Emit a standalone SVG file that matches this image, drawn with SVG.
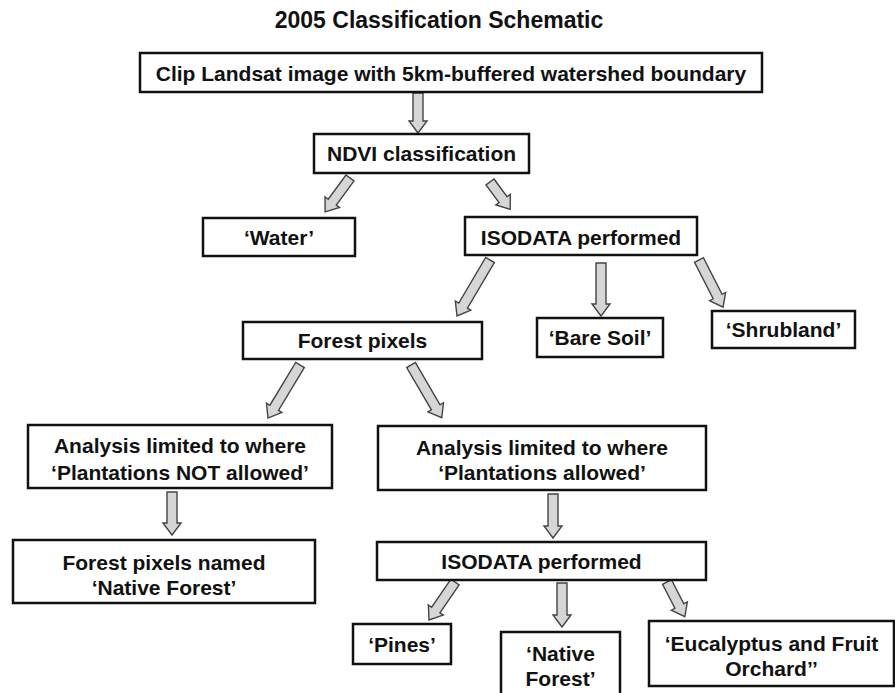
<svg xmlns="http://www.w3.org/2000/svg" width="895" height="693" viewBox="0 0 895 693">
<style>
text{font-family:"Liberation Sans",Arial,sans-serif;font-weight:bold;font-size:21px;fill:#111;text-anchor:middle}
.title{font-size:23px}
.box{fill:#fff;stroke:#111;stroke-width:2.5}
.arr{fill:#d6d6d6;stroke:#444;stroke-width:1.4;stroke-linejoin:miter}
</style>
<rect width="895" height="693" fill="#fff"/>
<text class="title" x="439" y="28">2005 Classification Schematic</text>
<g id="connectors">
<polygon class="arr" transform="translate(418,93) rotate(90)" points="0,-5 28,-5 28,-9 40,0 28,9 28,5 0,5"/>
<polygon class="arr" transform="translate(350,178) rotate(126.3)" points="0,-5 30,-5 30,-9 42,0 30,9 30,5 0,5"/>
<polygon class="arr" transform="translate(490,182) rotate(53.5)" points="0,-5 22,-5 22,-9 34,0 22,9 22,5 0,5"/>
<polygon class="arr" transform="translate(490,260) rotate(120.5)" points="0,-5 53,-5 53,-9 65,0 53,9 53,5 0,5"/>
<polygon class="arr" transform="translate(601,263) rotate(90)" points="0,-5 41,-5 41,-9 53,0 41,9 41,5 0,5"/>
<polygon class="arr" transform="translate(699,260) rotate(63)" points="0,-5 41,-5 41,-9 53,0 41,9 41,5 0,5"/>
<polygon class="arr" transform="translate(300,365) rotate(121.1)" points="0,-5 50,-5 50,-9 62,0 50,9 50,5 0,5"/>
<polygon class="arr" transform="translate(411,365) rotate(59.7)" points="0,-5 49,-5 49,-9 61,0 49,9 49,5 0,5"/>
<polygon class="arr" transform="translate(172,492) rotate(90)" points="0,-5 31,-5 31,-9 43,0 31,9 31,5 0,5"/>
<polygon class="arr" transform="translate(553,494) rotate(90)" points="0,-5 32,-5 32,-9 44,0 32,9 32,5 0,5"/>
<polygon class="arr" transform="translate(455,582) rotate(124.4)" points="0,-5 34,-5 34,-9 46,0 34,9 34,5 0,5"/>
<polygon class="arr" transform="translate(562,583) rotate(90)" points="0,-5 32,-5 32,-9 44,0 32,9 32,5 0,5"/>
<polygon class="arr" transform="translate(667,582) rotate(62.8)" points="0,-5 27,-5 27,-9 39,0 27,9 27,5 0,5"/>
</g>
<g id="clip"><rect class="box" x="140" y="53" width="622" height="39"/><text x="451" y="80.5">Clip Landsat image with 5km-buffered watershed boundary</text></g>
<g id="ndvi"><rect class="box" x="314" y="134" width="215" height="39"/><text x="421.5" y="161">NDVI classification</text></g>
<g id="water"><rect class="box" x="203" y="218" width="152" height="38"/><text x="279" y="244.5">‘Water’</text></g>
<g id="isodata1"><rect class="box" x="465" y="217" width="232" height="38"/><text x="581" y="244.5">ISODATA performed</text></g>
<g id="forest"><rect class="box" x="243" y="322" width="239" height="37"/><text x="362.5" y="348">Forest pixels</text></g>
<g id="baresoil"><rect class="box" x="537" y="318" width="126" height="39"/><text x="600" y="345">‘Bare Soil’</text></g>
<g id="shrubland"><rect class="box" x="712" y="311" width="143" height="37"/><text x="783.5" y="337">‘Shrubland’</text></g>
<g id="notallowed"><rect class="box" x="28" y="425" width="304" height="63"/><text x="180" y="452.5">Analysis limited to where</text><text x="180" y="479.5">‘Plantations NOT allowed’</text></g>
<g id="allowed"><rect class="box" x="378" y="426" width="328" height="64"/><text x="542" y="454.5">Analysis limited to where</text><text x="542" y="479.5">‘Plantations allowed’</text></g>
<g id="named"><rect class="box" x="13" y="540" width="302" height="63"/><text x="164" y="569.5">Forest pixels named</text><text x="164" y="594.5">‘Native Forest’</text></g>
<g id="isodata2"><rect class="box" x="377" y="542" width="329" height="38"/><text x="541.5" y="568.5">ISODATA performed</text></g>
<g id="pines"><rect class="box" x="353" y="624" width="98" height="40"/><text x="402" y="652">‘Pines’</text></g>
<g id="native"><rect class="box" x="501" y="632" width="119" height="70"/><text x="560.5" y="660.5">‘Native</text><text x="560.5" y="685.5">Forest’</text></g>
<g id="eucalyptus"><rect class="box" x="649" y="621" width="245" height="65"/><text x="771.5" y="650.5">‘Eucalyptus and Fruit</text><text x="771.5" y="675.5">Orchard’’</text></g>
</svg>
